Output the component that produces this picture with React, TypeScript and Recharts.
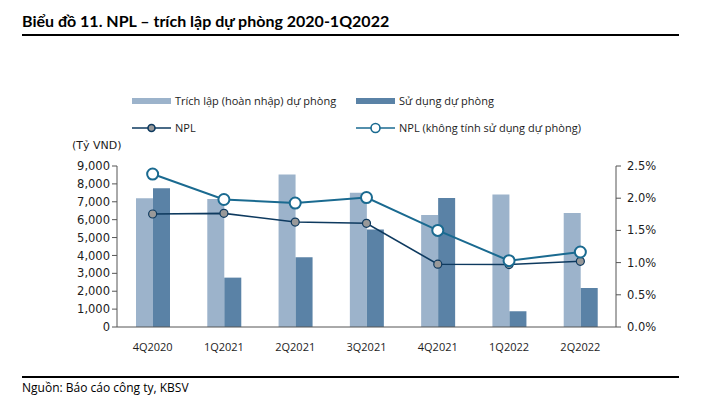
import React from "react";
import { Bar, ComposedChart, Line, XAxis, YAxis } from "recharts";

const quarters = ["4Q2020", "1Q2021", "2Q2021", "3Q2021", "4Q2021", "1Q2022", "2Q2022"];
const provisionCharge = [7200, 7150, 8530, 7500, 6260, 7400, 6370];
const provisionUsed = [7750, 2760, 3900, 5450, 7210, 880, 2180];
const npl = [1.755, 1.765, 1.63, 1.61, 0.975, 0.97, 1.02];
const nplExclUsed = [2.375, 1.98, 1.925, 2.01, 1.5, 1.03, 1.165];
const leftTicks = [0, 1000, 2000, 3000, 4000, 5000, 6000, 7000, 8000, 9000];
const rightTicks = [0, 0.5, 1, 1.5, 2, 2.5];
const boundaryTicks = [0, 1, 2, 3, 4, 5, 6, 7];

const data = quarters.map((q, i) => ({
  q,
  charge: provisionCharge[i],
  used: provisionUsed[i],
  npl: npl[i],
  nplExcl: nplExclUsed[i],
}));

const LIGHT = "#9cb3cb";
const DARK = "#5a82a6";
const NAVY = "#0e3a5f";
const TEAL = "#1a6a90";
const TEXT = "#1c1c1c";

const fmtThousands = (v: number) => v.toLocaleString("en-US");
const fmtPct = (v: number) => `${v.toFixed(1)}%`;

function SwatchItem({ color, label }: { color: string; label: string }) {
  return (
    <div style={{ display: "flex", alignItems: "center" }}>
      <div style={{ width: 39, height: 6, background: color, marginRight: 4 }} />
      <span>{label}</span>
    </div>
  );
}

function LineItem({ color, fill, r, label }: { color: string; fill: string; r: number; label: string }) {
  return (
    <div style={{ display: "flex", alignItems: "center" }}>
      <svg width={39} height={14} style={{ marginRight: 4 }}>
        <line x1={0} x2={39} y1={7} y2={7} stroke={color} strokeWidth={1.6} />
        <circle cx={19.5} cy={7} r={r} fill={fill} stroke={color} strokeWidth={1.6} />
      </svg>
      <span>{label}</span>
    </div>
  );
}

export default function App() {
  const legendFont: React.CSSProperties = {
    position: "absolute",
    fontFamily: "'Open Sans', sans-serif",
    fontSize: 11,
    color: TEXT,
  };
  return (
    <div style={{ position: "absolute", left: 0, top: 0, width: 725, height: 408, background: "#fff" }}>
      <div
        style={{
          position: "absolute",
          left: 22,
          top: 11,
          fontFamily: "Lato, sans-serif",
          fontWeight: 700,
          fontSize: 16,
          color: "#000",
        }}
      >
        Biểu đồ 11. NPL – trích lập dự phòng 2020-1Q2022
      </div>
      <div style={{ position: "absolute", left: 22, top: 34, width: 657, height: 2, background: "#000" }} />

      <div style={{ ...legendFont, left: 132, top: 93 }}>
        <SwatchItem color={LIGHT} label="Trích lập (hoàn nhập) dự phòng" />
      </div>
      <div style={{ ...legendFont, left: 356, top: 93 }}>
        <SwatchItem color={DARK} label="Sử dụng dự phòng" />
      </div>
      <div style={{ ...legendFont, left: 132, top: 120 }}>
        <LineItem color={NAVY} fill="#999" r={3.5} label="NPL" />
      </div>
      <div style={{ ...legendFont, left: 356, top: 120 }}>
        <LineItem color={TEAL} fill="#fff" r={4.5} label="NPL (không tính sử dụng dự phòng)" />
      </div>

      <div
        style={{
          position: "absolute",
          left: 72,
          top: 139,
          fontFamily: "'DejaVu Sans', sans-serif",
          fontSize: 11,
          color: TEXT,
        }}
      >
        (Tỷ VND)
      </div>

      <div style={{ position: "absolute", left: 0, top: 0 }}>
        <ComposedChart
          width={725}
          height={408}
          data={data}
          margin={{ top: 166, right: 64, bottom: 51, left: 72 }}
          barGap={0}
        >
          <XAxis
            xAxisId="bounds"
            type="number"
            domain={[0, 7]}
            ticks={boundaryTicks}
            height={0}
            mirror
            axisLine={false}
            tickLine={{ stroke: "#444" }}
            tickSize={4}
            tickFormatter={() => ""}
          />
          <XAxis
            dataKey="q"
            height={30}
            axisLine={{ stroke: "#555" }}
            tickLine={false}
            tickMargin={10}
            tick={{ fill: TEXT, fontSize: 11, fontFamily: "'Open Sans', sans-serif" }}
            interval={0}
          />
          <YAxis
            yAxisId="left"
            width={45}
            domain={[0, 9000]}
            ticks={leftTicks}
            tickFormatter={fmtThousands}
            axisLine={{ stroke: "#555" }}
            tickLine={{ stroke: "#555" }}
            tickSize={5}
            tickMargin={2}
            tick={{ fill: TEXT, fontSize: 11.5, fontFamily: "'DejaVu Sans', sans-serif" }}
            interval={0}
          />
          <YAxis
            yAxisId="right"
            orientation="right"
            width={45}
            domain={[0, 2.5]}
            ticks={rightTicks}
            tickFormatter={fmtPct}
            axisLine={{ stroke: "#555" }}
            tickLine={{ stroke: "#555" }}
            tickSize={5}
            tickMargin={6}
            tick={{ fill: TEXT, fontSize: 11.5, fontFamily: "'DejaVu Sans', sans-serif" }}
            interval={0}
          />
          <Bar yAxisId="left" dataKey="charge" fill={LIGHT} barSize={17} isAnimationActive={false} />
          <Bar yAxisId="left" dataKey="used" fill={DARK} barSize={17} isAnimationActive={false} />
          <Line
            yAxisId="right"
            dataKey="npl"
            stroke={NAVY}
            strokeWidth={1.6}
            dot={{ r: 4, fill: "#999", stroke: NAVY, strokeWidth: 1.2 }}
            isAnimationActive={false}
          />
          <Line
            yAxisId="right"
            dataKey="nplExcl"
            stroke={TEAL}
            strokeWidth={2}
            dot={{ r: 5.5, fill: "#fff", stroke: TEAL, strokeWidth: 2 }}
            isAnimationActive={false}
          />
        </ComposedChart>
      </div>

      <div style={{ position: "absolute", left: 22, top: 376, width: 657, height: 2, background: "#000" }} />
      <div
        style={{
          position: "absolute",
          left: 22,
          top: 379,
          fontFamily: "'Open Sans', sans-serif",
          fontSize: 12,
          color: "#000",
        }}
      >
        Nguồn: Báo cáo công ty, KBSV
      </div>
    </div>
  );
}
